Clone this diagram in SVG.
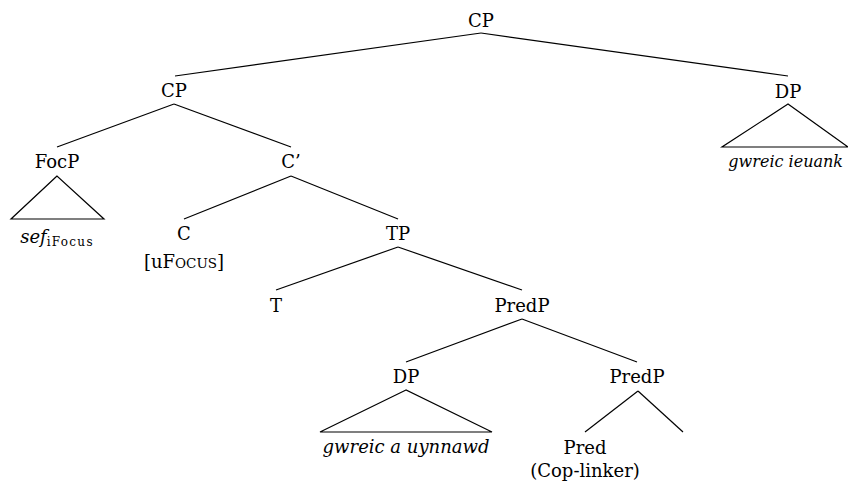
<svg xmlns="http://www.w3.org/2000/svg" width="848" height="483" viewBox="0 0 848 483">
<style>
text{font-family:"DejaVu Serif","Liberation Serif",serif;font-size:18px;fill:#000;text-anchor:middle}
.it{font-style:italic}
.sc{font-size:13.5px}
.sub{font-size:12px;letter-spacing:1.3px}
line,polygon{stroke:#000;stroke-width:1.2;fill:none}
</style>
<rect width="848" height="483" fill="#fff"/>
<g id="connectors">
<line x1="481" y1="33" x2="175" y2="76"/>
<line x1="481" y1="33" x2="788" y2="76"/>
<line x1="174" y1="104" x2="57" y2="147"/>
<line x1="174" y1="104" x2="291" y2="147"/>
<line x1="291" y1="176" x2="184" y2="219"/>
<line x1="291" y1="176" x2="398" y2="219"/>
<line x1="398" y1="247" x2="276" y2="290"/>
<line x1="398" y1="247" x2="522" y2="290"/>
<line x1="522" y1="319" x2="406" y2="362"/>
<line x1="522" y1="319" x2="637" y2="362"/>
<line x1="638" y1="391" x2="585" y2="432"/>
<line x1="638" y1="391" x2="683" y2="432"/>
<polygon points="788,104 722,147 848,147"/>
<polygon points="57,176 11,219 104,219"/>
<polygon points="406,390 320,432 492,432"/>
</g>
<g id="cp-root"><text x="481" y="27">CP</text></g>
<g id="cp"><text x="174" y="97">CP</text></g>
<g id="dp-right"><text x="788" y="98">DP</text><text class="it" x="843" y="167" style="text-anchor:end;font-size:16px">gwreic ieuank</text></g>
<g id="focp"><text x="57" y="168">FocP</text><text x="57" y="243"><tspan class="it">sef</tspan><tspan class="sub" dy="3">iFocus</tspan></text></g>
<g id="cbar"><text x="291" y="168">C’</text></g>
<g id="c"><text x="184" y="240">C</text><text x="184" y="268">[uF<tspan class="sc">OCUS</tspan>]</text></g>
<g id="tp"><text x="398" y="240">TP</text></g>
<g id="t"><text x="276" y="312">T</text></g>
<g id="predp"><text x="522" y="312">PredP</text></g>
<g id="dp"><text x="406" y="383">DP</text><text class="it" x="406" y="453">gwreic a uynnawd</text></g>
<g id="predp2"><text x="637" y="383">PredP</text></g>
<g id="pred"><text x="585" y="454">Pred</text><text x="585" y="477">(Cop-linker)</text></g>
</svg>
